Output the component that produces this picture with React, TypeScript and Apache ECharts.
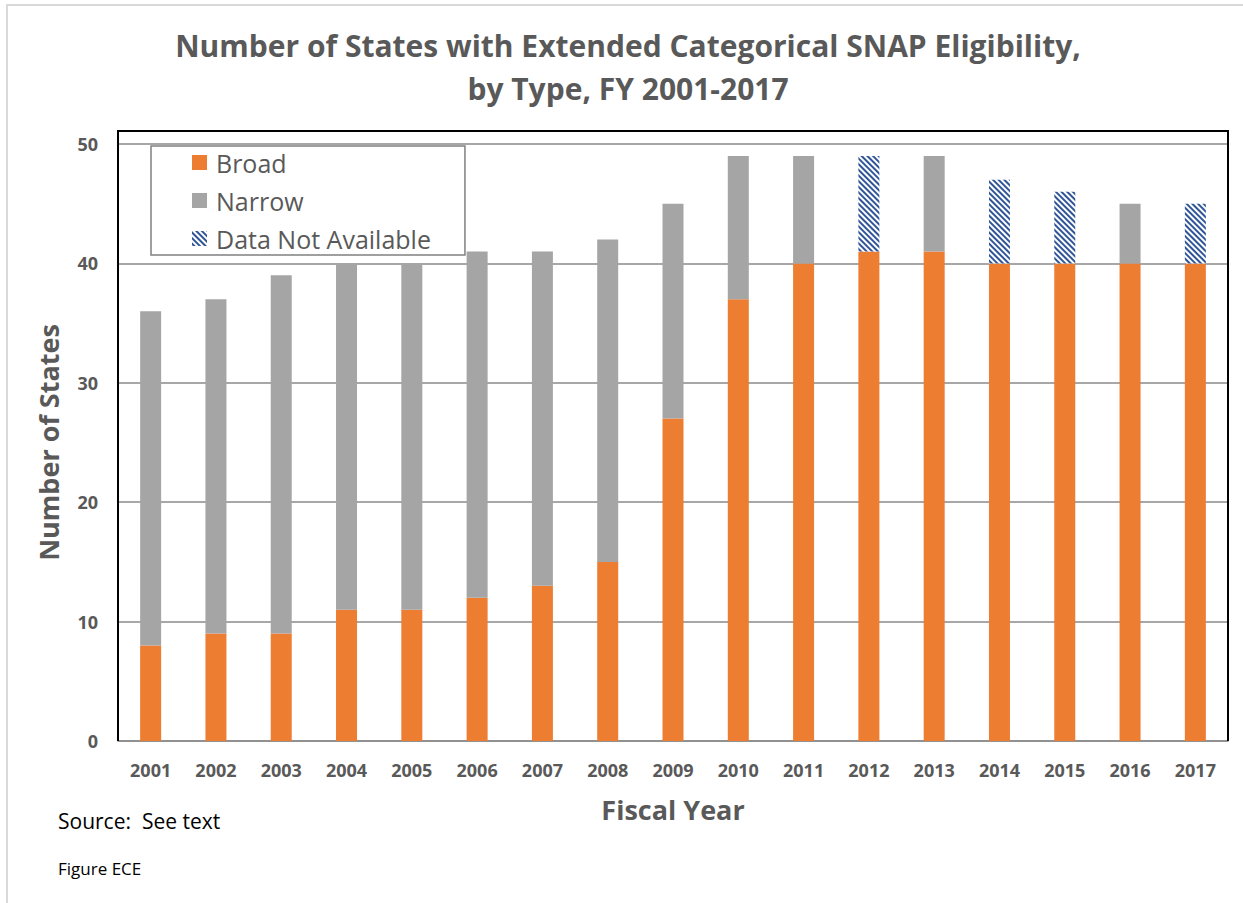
import React, { useEffect, useRef } from "react";
import * as echarts from "echarts";

const years = ["2001","2002","2003","2004","2005","2006","2007","2008","2009","2010","2011","2012","2013","2014","2015","2016","2017"];
const broad = [8, 9, 9, 11, 11, 12, 13, 15, 27, 37, 40, 41, 41, 40, 40, 40, 40];
const narrow = [28, 28, 30, 29, 29, 29, 28, 27, 18, 12, 9, 0, 8, 0, 0, 5, 0];
const notAvailable = [0, 0, 0, 0, 0, 0, 0, 0, 0, 0, 0, 8, 0, 7, 6, 0, 5];
const seriesNames = ["Broad", "Narrow", "Data Not Available"];

const FONT = "'Open Sans', 'Noto Sans', sans-serif";
const GRAY_TEXT = "#595959";

export default function App() {
  const ref = useRef<HTMLDivElement>(null);
  useEffect(() => {
    if (!ref.current) return;
    const chart = echarts.init(ref.current, null, { renderer: "svg" });
    chart.setOption({
      animation: false,
      backgroundColor: "#ffffff",
      grid: { left: 118, right: 15, top: 144, bottom: 162, containLabel: false },
      legend: {
        orient: "vertical",
        left: 151,
        top: 146,
        data: seriesNames,
        icon: "rect",
        itemWidth: 15,
        itemHeight: 15,
        itemGap: 13,
        padding: [4, 34, 4, 41],
        backgroundColor: "#ffffff",
        borderColor: "#808080",
        borderWidth: 1.5,
        borderRadius: 0,
        textStyle: { fontFamily: FONT, fontSize: 25, color: GRAY_TEXT, lineHeight: 24, padding: [0, 0, 0, 4] },
        z: 10,
      },
      xAxis: {
        type: "category",
        data: years,
        axisLine: { show: true, lineStyle: { color: "#8a8a8a", width: 1.5 } },
        axisTick: { show: false },
        axisLabel: { fontFamily: FONT, fontWeight: "bold", fontSize: 18, color: GRAY_TEXT, margin: 20 },
        name: "Fiscal Year",
        nameLocation: "middle",
        nameGap: 55,
        nameTextStyle: { fontFamily: FONT, fontWeight: "bold", fontSize: 27, color: GRAY_TEXT },
      },
      yAxis: {
        type: "value",
        min: 0,
        max: 50,
        interval: 10,
        axisLine: { show: false },
        axisTick: { show: false },
        splitLine: { show: true, lineStyle: { color: "#8a8a8a", width: 1.5 } },
        axisLabel: { fontFamily: FONT, fontWeight: "bold", fontSize: 18, color: GRAY_TEXT, margin: 20 },
        name: "Number of States",
        nameLocation: "middle",
        nameGap: 56,
        nameTextStyle: { fontFamily: FONT, fontWeight: "bold", fontSize: 27, color: GRAY_TEXT },
      },
      series: [
        {
          name: seriesNames[0],
          type: "bar",
          stack: "total",
          barWidth: 21,
          data: broad,
          itemStyle: { color: "#ED7D31" },
        },
        {
          name: seriesNames[1],
          type: "bar",
          stack: "total",
          barWidth: 21,
          data: narrow,
          itemStyle: { color: "#A5A5A5" },
        },
        {
          name: seriesNames[2],
          type: "bar",
          stack: "total",
          barWidth: 21,
          data: notAvailable,
          itemStyle: {
            color: "#ffffff",
            decal: {
              symbol: "rect",
              symbolSize: 1,
              color: "#2F5597",
              backgroundColor: "#ffffff",
              dashArrayX: [1, 0],
              dashArrayY: [1.5, 1.2],
              rotation: Math.PI / 4,
            },
          },
        },
      ],
      graphic: [
        {
          type: "polyline",
          silent: true,
          shape: { points: [[7, 903], [7, 5], [1243, 5]] },
          style: { stroke: "#d9d9d9", lineWidth: 2, fill: "none" },
        },
        {
          type: "polyline",
          silent: true,
          z: 5,
          shape: { points: [[118, 741], [118, 131], [1228, 131], [1228, 741]] },
          style: { stroke: "#000000", lineWidth: 2, fill: "none" },
        },
        {
          type: "text",
          x: 628,
          y: 45,
          style: {
            text: "Number of States with Extended Categorical SNAP Eligibility,",
            fontFamily: FONT,
            fontWeight: "bold",
            fontSize: 30,
            fill: GRAY_TEXT,
            align: "center",
            verticalAlign: "middle",
          },
        },
        {
          type: "text",
          x: 628,
          y: 88,
          style: {
            text: "by Type, FY 2001-2017",
            fontFamily: FONT,
            fontWeight: "bold",
            fontSize: 30,
            fill: GRAY_TEXT,
            align: "center",
            verticalAlign: "middle",
          },
        },
        {
          type: "text",
          x: 58,
          y: 821,
          style: {
            text: "Source:  See text",
            fontFamily: FONT,
            fontSize: 21,
            fill: "#000000",
            align: "left",
            verticalAlign: "middle",
          },
        },
        {
          type: "text",
          x: 58,
          y: 868,
          style: {
            text: "Figure ECE",
            fontFamily: FONT,
            fontSize: 17,
            fill: "#000000",
            align: "left",
            verticalAlign: "middle",
          },
        },
      ],
    });
    return () => chart.dispose();
  }, []);
  return (
    <div
      ref={ref}
      style={{ position: "absolute", left: 0, top: 0, width: 1243, height: 903 }}
    />
  );
}
